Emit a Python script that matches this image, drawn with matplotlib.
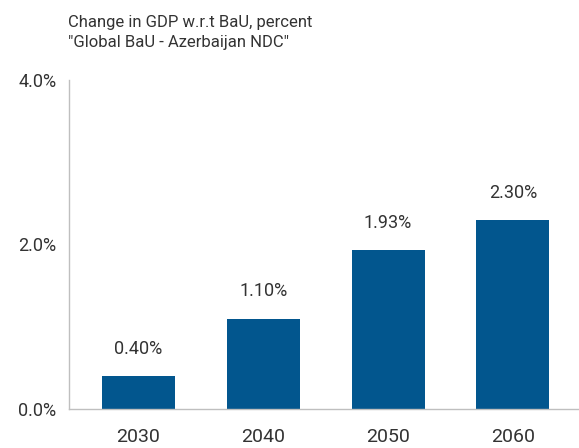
import numpy as np
import matplotlib
matplotlib.use("Agg")
from matplotlib import pyplot as plt

plt.rcParams['font.family'] = ['Roboto', 'DejaVu Sans']

years = ["2030", "2040", "2050", "2060"]
gdp_change = [0.40, 1.10, 1.93, 2.30]
bar_labels = ["0.40%", "1.10%", "1.93%", "2.30%"]
y_ticks = [0.0, 2.0, 4.0]
y_tick_labels = ["0.0%", "2.0%", "4.0%"]

bar_color = "#02568e"
text_color = "#333333"

fig = plt.figure(figsize=(5.79, 4.48), dpi=100)
ax = fig.add_axes([0.1192, 0.0871, 0.8808, 0.7343])

x = np.arange(len(years))
ax.bar(x, gdp_change, width=0.585, color=bar_color)

for xi, v, lab in zip(x, gdp_change, bar_labels):
    ax.text(xi, v + 0.22, lab, ha='center', va='bottom', fontsize=13, color=text_color)

ax.set_xlim(-0.557, 3.53)
ax.set_ylim(0, 4.0)
ax.set_xticks(x)
ax.set_xticklabels(years, fontsize=14, color=text_color)
ax.set_yticks(y_ticks)
ax.set_yticklabels(y_tick_labels, fontsize=13, color=text_color)
ax.tick_params(length=0)
ax.tick_params(axis='x', pad=14)
ax.tick_params(axis='y', pad=9)

for s in ['top', 'right']:
    ax.spines[s].set_visible(False)
for s in ['left', 'bottom']:
    ax.spines[s].set_color('#bfbfbf')
    ax.spines[s].set_linewidth(1.0)

fig.text(0.1175, 0.94, "Change in GDP w.r.t BaU, percent", fontsize=12, color=text_color, va='baseline')
fig.text(0.1175, 0.895, "\"Global BaU - Azerbaijan NDC\"", fontsize=12, color=text_color, va='baseline')

fig.savefig("out.png", dpi=100)
